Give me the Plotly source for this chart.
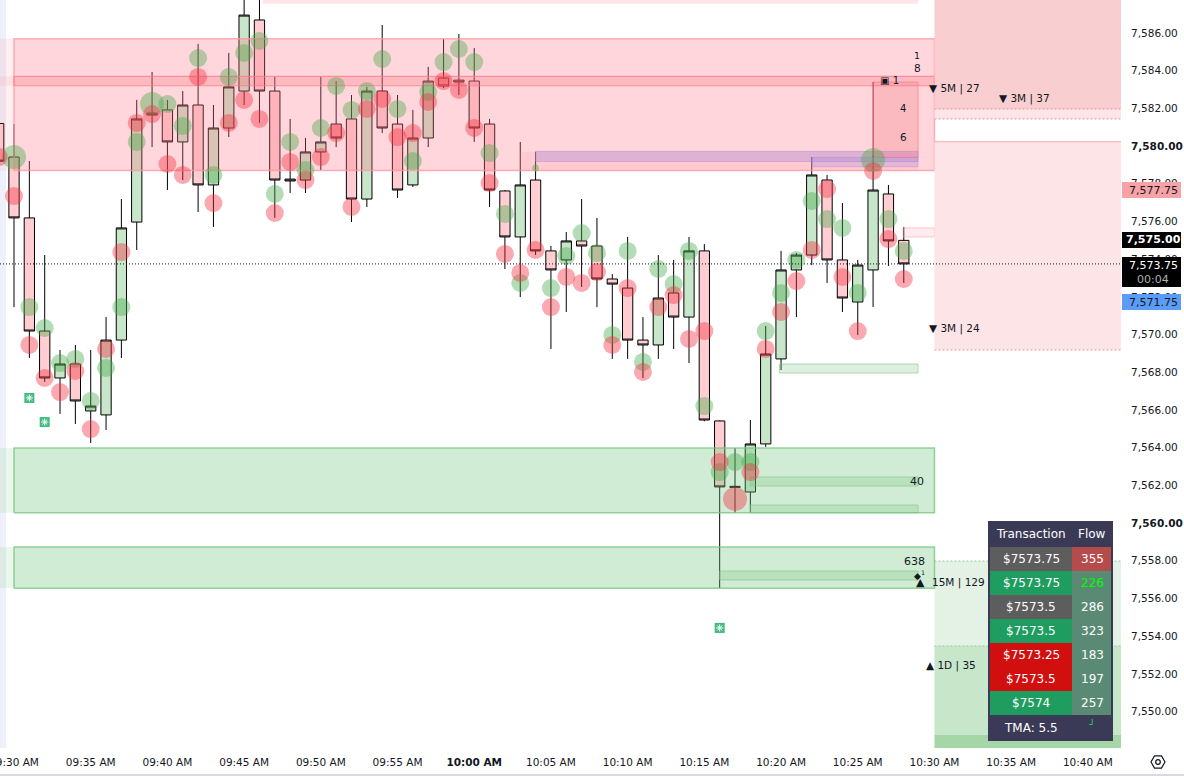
import math
import plotly.graph_objects as go

# ---------------- data ----------------
times = ["09:29", "09:30", "09:31", "09:32", "09:33", "09:34", "09:35", "09:36", "09:37", "09:38",
         "09:39", "09:40", "09:41", "09:42", "09:43", "09:44", "09:45", "09:46", "09:47", "09:48",
         "09:49", "09:50", "09:51", "09:52", "09:53", "09:54", "09:55", "09:56", "09:57", "09:58",
         "09:59", "10:00", "10:01", "10:02", "10:03", "10:04", "10:05", "10:06", "10:07", "10:08",
         "10:09", "10:10", "10:11", "10:12", "10:13", "10:14", "10:15", "10:16", "10:17", "10:18",
         "10:19", "10:20", "10:21", "10:22", "10:23", "10:24", "10:25", "10:26", "10:27", "10:28"]
opens = [7581.20, 7579.42, 7576.19, 7570.19, 7567.70, 7568.44, 7565.95, 7565.74, 7569.71, 7575.97,
         7581.75, 7581.92, 7580.22, 7582.18, 7577.94, 7580.96, 7582.92, 7586.69, 7582.92, 7578.25,
         7578.20, 7579.69, 7581.17, 7581.44, 7577.19, 7582.92, 7581.17, 7577.94, 7580.43, 7583.61,
         7583.50, 7583.45, 7581.17, 7577.62, 7575.18, 7578.20, 7574.44, 7573.96, 7574.97, 7574.70,
         7572.95, 7572.47, 7569.71, 7569.45, 7572.21, 7570.93, 7574.44, 7565.42, 7561.95, 7561.65,
         7564.20, 7568.71, 7573.43, 7574.22, 7578.20, 7573.96, 7571.73, 7573.43, 7577.46, 7575.00]
highs = [7581.60, 7581.17, 7579.21, 7574.22, 7569.18, 7569.45, 7569.18, 7570.93, 7577.19, 7582.45,
         7583.93, 7582.45, 7582.92, 7585.42, 7582.18, 7584.94, 7588.50, 7588.50, 7583.67, 7581.44,
         7580.43, 7583.67, 7583.45, 7582.71, 7583.14, 7586.42, 7582.71, 7581.92, 7584.20, 7585.68,
         7585.95, 7585.20, 7581.44, 7577.67, 7580.22, 7579.69, 7574.70, 7575.44, 7577.19, 7576.19,
         7573.21, 7575.18, 7570.93, 7574.22, 7573.96, 7575.18, 7574.80, 7565.45, 7563.98, 7565.47,
         7570.46, 7574.44, 7574.33, 7579.42, 7578.47, 7576.98, 7573.96, 7579.50, 7577.94, 7575.71]
lows = [7578.50, 7571.46, 7568.76, 7567.49, 7565.79, 7565.26, 7564.25, 7564.94, 7568.76, 7574.49,
        7579.95, 7577.67, 7578.20, 7576.50, 7575.71, 7580.48, 7582.18, 7581.23, 7576.19, 7577.51,
        7577.51, 7578.73, 7579.95, 7575.97, 7576.77, 7580.69, 7577.25, 7577.83, 7579.95, 7583.08,
        7582.71, 7580.22, 7576.77, 7573.48, 7571.99, 7574.22, 7569.24, 7571.20, 7572.53, 7571.46,
        7568.71, 7568.71, 7567.70, 7568.71, 7569.24, 7568.49, 7565.40, 7556.56, 7560.54, 7560.54,
        7564.04, 7568.12, 7570.93, 7573.69, 7572.74, 7571.20, 7569.98, 7571.46, 7573.64, 7572.74]
closes = [7579.20, 7576.19, 7570.19, 7567.70, 7568.44, 7566.48, 7566.21, 7569.71, 7575.66, 7581.44,
          7581.65, 7580.22, 7582.18, 7577.94, 7580.96, 7583.14, 7586.95, 7582.92, 7578.20, 7578.15,
          7579.69, 7580.22, 7580.43, 7577.19, 7582.92, 7580.96, 7577.67, 7580.43, 7583.45, 7583.19,
          7583.40, 7580.96, 7577.67, 7575.18, 7577.94, 7574.44, 7573.43, 7574.97, 7574.70, 7572.95,
          7572.68, 7569.71, 7569.45, 7571.94, 7570.93, 7574.44, 7565.47, 7561.92, 7561.90, 7564.20,
          7568.97, 7573.43, 7574.22, 7578.47, 7573.96, 7571.94, 7573.69, 7577.67, 7574.97, 7573.75]

# bubbles (buy = green, one per candle from 09:30; sell = red, one per candle from 09:29)
buy_prices = [7579.42, 7571.46, 7570.35, 7568.49, 7568.71, 7566.48, 7568.23, 7571.46, 7580.22, 7582.23,
              7582.23, 7581.07, 7584.67, 7578.47, 7583.67, 7584.94, 7585.58, 7577.46, 7580.22, 7578.73,
              7580.96, 7583.19, 7581.92, 7582.92, 7584.62, 7581.97, 7579.21, 7582.87, 7584.46, 7585.15,
              7584.46, 7579.63, 7576.40, 7572.74, 7578.84, 7572.47, 7574.17, 7575.39, 7574.33, 7569.98,
              7574.44, 7568.55, 7573.48, 7572.68, 7574.44, 7566.21, 7562.71, 7563.24, 7563.24, 7570.19,
              7572.21, 7573.96, 7577.09, 7576.13, 7575.66, 7572.21, 7579.26, 7576.13, 7574.44]
sell_prices = [7579.42, 7577.35, 7569.45, 7567.70, 7566.95, 7568.07, 7564.99, 7569.24, 7574.38, 7581.23,
               7581.70, 7579.05, 7578.47, 7583.67, 7576.98, 7581.23, 7582.45, 7581.44, 7576.45, 7579.16,
               7578.20, 7579.42, 7580.69, 7576.77, 7581.97, 7582.50, 7580.48, 7580.69, 7582.34, 7583.45,
               7582.98, 7580.96, 7578.04, 7574.28, 7573.27, 7574.49, 7571.46, 7573.06, 7572.74, 7573.32,
               7569.45, 7572.47, 7568.02, 7571.46, 7572.10, 7569.77, 7570.19, 7563.24, 7561.28, 7562.71,
               7569.24, 7571.20, 7572.84, 7574.49, 7577.72, 7573.06, 7570.19, 7578.68, 7575.07, 7572.95]
buy_big = ["09:30", "09:39", "10:26"]
buy_small = ["10:04"]
sell_big = ["10:17"]

signal_times = ["09:31", "09:32", "10:16"]
signal_prices = [7566.64, 7565.36, 7554.44]

last_price = 7573.75
tick_prices = [7550, 7552, 7554, 7556, 7558, 7560, 7562, 7564, 7566, 7568, 7570,
               7572, 7574, 7576, 7578, 7580, 7582, 7584, 7586, 7588]
time_ticks = ["09:30", "09:35", "09:40", "09:45", "09:50", "09:55", "10:00", "10:05",
              "10:10", "10:15", "10:20", "10:25", "10:30", "10:35", "10:40"]

tbl_prices = ["$7573.75", "$7573.75", "$7573.5", "$7573.5", "$7573.25", "$7573.5", "$7574"]
tbl_flows = ["355", "226", "286", "323", "183", "197", "257"]
tbl_side = ["neutral", "buy", "neutral", "buy", "sell", "sell", "buy"]
tbl_tma = 5.5


def minute(t):
    h, m = t.split(":")
    return int(h) * 60 + int(m) - 570


X = [minute(t) for t in times]
FONT = "DejaVu Sans"
PW, PH = 1121, 748   # plot area in px


def PX(px):
    return px / PW


def PY(py):
    return 1 - py / PH


fig = go.Figure()

# candles
fig.add_trace(go.Candlestick(
    x=X, open=opens, high=highs, low=lows, close=closes,
    increasing=dict(line=dict(color="#000000", width=1), fillcolor="#c8e6c9"),
    decreasing=dict(line=dict(color="#000000", width=1), fillcolor="#ffcdd2"),
    whiskerwidth=0, hoverinfo="skip", showlegend=False))


def rect(t0, t1, p0, p1, fill, line=None, lw=1.0):
    fig.add_trace(go.Scatter(
        x=[t0, t1, t1, t0, t0], y=[p0, p0, p1, p1, p0], mode="lines", fill="toself",
        fillcolor=fill, line=dict(color=line if line else "rgba(0,0,0,0)", width=lw if line else 0),
        hoverinfo="skip", showlegend=False))


def hline(t0, t1, p, color, dash="solid", lw=1.0):
    fig.add_trace(go.Scatter(x=[t0, t1], y=[p, p], mode="lines",
                             line=dict(color=color, width=lw, dash=dash),
                             hoverinfo="skip", showlegend=False))


L0, R0 = -0.913, 72.16
ZS, ZE, ZB = 0, 60, 58.93
PINK = "rgba(255,120,135,0.30)"
PINK_L = "rgba(255,150,160,0.75)"
GREEN = "rgba(110,195,120,0.32)"
GREEN_L = "rgba(120,200,130,0.80)"

# supply zone + band (main area)
rect(L0, ZS, 7578.70, 7585.70, "rgba(255,120,135,0.12)")
rect(ZS, ZE, 7578.70, 7585.70, PINK, PINK_L, 1.5)
rect(L0, ZS, 7583.20, 7583.70, "rgba(255,120,135,0.12)")
rect(ZS, ZE, 7583.20, 7583.70, "rgba(255,110,125,0.28)", "rgba(255,120,135,0.7)", 1.2)
rect(33, ZB, 7578.70, 7579.70, "rgba(255,140,150,0.15)")
rect(34, ZB, 7579.18, 7579.72, "rgba(150,120,220,0.30)", "rgba(160,130,220,0.5)", 0.8)
rect(52, ZB, 7578.90, 7579.40, "rgba(150,120,220,0.25)", "rgba(160,130,220,0.45)", 0.8)
rect(56, ZB, 7579.40, 7583.40, "rgba(240,110,120,0.27)", "rgba(240,120,130,0.6)", 1)
fig.add_trace(go.Scatter(x=[56, 56], y=[7579.40, 7583.40], mode="lines",
                         line=dict(color="rgba(170,40,55,0.8)", width=1),
                         hoverinfo="skip", showlegend=False))
rect(57.95, ZE, 7575.18, 7575.66, "rgba(255,150,160,0.18)", "rgba(255,150,160,0.5)", 1)
rect(16.2, ZB, 7587.55, 7587.75, "rgba(255,150,160,0.25)")

# right-side projected zones
rect(ZE, R0 + 1, 7581.97, 7588.5, "rgb(249,206,209)")
rect(ZE, R0 + 1, 7581.44, 7581.97, "rgb(252,230,232)")
hline(ZE, R0 + 1, 7581.97, "rgb(240,150,160)", "2px,2px")
hline(ZE, R0 + 1, 7581.44, "rgb(240,150,160)", "2px,2px")
rect(ZE, R0 + 1, 7569.18, 7580.23, "rgb(253,228,230)")
hline(ZE, R0 + 1, 7580.23, "rgb(248,170,176)", "solid", 1.2)
hline(ZE, R0 + 1, 7569.18, "rgb(240,150,160)", "2px,2px")

rect(ZE, R0 + 1, 7553.48, 7557.99, "rgb(227,242,228)")
rect(ZE, R0 + 1, 7548.76, 7553.48, "rgb(200,230,201)")
rect(ZE, R0 + 1, 7547.00, 7548.76, "rgb(165,214,167)")
hline(ZE, R0 + 1, 7557.99, "rgb(150,205,155)", "2px,2px")
hline(ZE, R0 + 1, 7553.48, "rgb(150,205,155)", "2px,2px")

# demand zones (main area)
rect(L0, ZS, 7560.55, 7563.98, "rgba(110,195,120,0.14)")
rect(ZS, ZE, 7560.55, 7563.98, GREEN, GREEN_L, 1.5)
rect(L0, ZS, 7556.55, 7558.73, "rgba(110,195,120,0.14)")
rect(ZS, ZE, 7556.55, 7558.73, GREEN, GREEN_L, 1.5)
for t0, p0, p1 in [(48, 7561.97, 7562.45), (48, 7560.55, 7560.96),
                   (46, 7556.98, 7557.46), (49.9, 7567.96, 7568.44)]:
    rect(t0, ZB, p0, p1, "rgba(120,190,125,0.25)", "rgba(120,195,128,0.55)", 1)

# bubbles
bx = [minute(t) for t in times[1:]]
bs = [24 if t in buy_big else (7 if t in buy_small else 18) for t in times[1:]]
fig.add_trace(go.Scatter(x=bx, y=buy_prices, mode="markers",
                         marker=dict(size=bs, color="rgba(70,170,75,0.58)", line=dict(width=0)),
                         hoverinfo="skip", showlegend=False))
ss = [24 if t in sell_big else 18 for t in times]
fig.add_trace(go.Scatter(x=X, y=sell_prices, mode="markers",
                         marker=dict(size=ss, color="rgba(242,50,66,0.60)", line=dict(width=0)),
                         hoverinfo="skip", showlegend=False))

# signal squares
sx = [minute(t) for t in signal_times]
fig.add_trace(go.Scatter(x=sx, y=signal_prices, mode="markers",
                         marker=dict(symbol="square", size=10, color="#3dbb7d", line=dict(width=0)),
                         hoverinfo="skip", showlegend=False))
fig.add_trace(go.Scatter(x=sx, y=signal_prices, mode="markers",
                         marker=dict(symbol="asterisk-open", size=6, color="white", line=dict(width=1, color="white")),
                         hoverinfo="skip", showlegend=False))

shapes = []
annotations = []

# left session strip
shapes.append(dict(type="rect", xref="paper", yref="paper", x0=0, x1=PX(6), y0=0, y1=1,
                   fillcolor="#eef1fb", line=dict(width=0), layer="below"))
# last price dotted line
shapes.append(dict(type="line", xref="paper", yref="y", x0=0, x1=1, y0=last_price, y1=last_price,
                   line=dict(color="#131722", width=1, dash="1px,2px")))
# bottom border
shapes.append(dict(type="line", xref="paper", yref="paper", x0=0, x1=PX(1184), y0=PY(775), y1=PY(775),
                   line=dict(color="#b2b5be", width=1)))


def txt(x, y, s, size=10.5, color="#131722", xanchor="left", xref="x", yref="y", **kw):
    annotations.append(dict(x=x, y=y, xref=xref, yref=yref, text=s, showarrow=False,
                            xanchor=xanchor, yanchor="middle",
                            font=dict(family=FONT, size=size, color=color), **kw))


# zone labels
txt(59.5, 7583.08, "▼ 5M | 27")
txt(64.1, 7582.55, "▼ 3M | 37")
txt(59.5, 7570.30, "▼ 3M | 24")
txt(59.45, 7562.23, "40", xanchor="right", size=11)
txt(59.5, 7557.99, "638", xanchor="right", size=11)
txt(59.5, 7557.25, "◆<sup>1</sup>", xanchor="right", size=9)
txt(59.06, 7556.85, "▲", xanchor="center", size=11)
txt(59.72, 7556.85, "15M | 129")
txt(59.3, 7552.47, "▲ 1D | 35")
txt(58.87, 7584.78, "1", xanchor="center", size=9.5)
txt(58.87, 7584.14, "8", xanchor="center", size=10.5)
txt(56.35, 7583.50, "▣ 1", size=10)
txt(57.95, 7581.97, "4", xanchor="center", size=10)
txt(57.95, 7580.48, "6", xanchor="center", size=10.5)


# price-axis labels
def plabel(py0, py1, bg, lines):
    shapes.append(dict(type="rect", xref="paper", yref="paper", x0=PX(1122), x1=PX(1181),
                       y0=PY(py1), y1=PY(py0), fillcolor=bg, line=dict(width=0), layer="above"))
    for (py, s, col) in lines:
        txt(PX(1153), PY(py), s, size=11, color=col, xanchor="center", xref="paper", yref="paper")


plabel(182, 198, "#f7a2a7", [(190, "7,577.75", "#131722")])
plabel(232, 248, "#000000", [(240, "<b>7,575.00</b>", "#ffffff")])
plabel(257, 287, "#000000", [(265, "7,573.75", "#ffffff"), (279, "00:04", "#b0b0b0")])
plabel(294, 310, "#5b9cf6", [(302, "7,571.75", "#131722")])

# transaction table
side_bg = {"neutral": "#5d5d5d", "buy": "#1f9d60", "sell": "#d10f0f"}
shapes.append(dict(type="rect", xref="paper", yref="paper", x0=PX(988), x1=PX(1113),
                   y0=PY(741), y1=PY(521), fillcolor="#3b3a56", line=dict(width=0), layer="above"))
txt(PX(1031), PY(534), "Transaction", size=12, color="#ffffff", xanchor="center", xref="paper", yref="paper")
txt(PX(1092), PY(534), "Flow", size=12, color="#ffffff", xanchor="center", xref="paper", yref="paper")
for k, (pr, fl, sd) in enumerate(zip(tbl_prices, tbl_flows, tbl_side)):
    y0 = 547 + 24 * k
    y1 = y0 + 24
    shapes.append(dict(type="rect", xref="paper", yref="paper", x0=PX(990), x1=PX(1072),
                       y0=PY(y1), y1=PY(y0), fillcolor=side_bg[sd], line=dict(width=0), layer="above"))
    fbg = "#b64b4b" if k == 0 else "#5a8a74"
    shapes.append(dict(type="rect", xref="paper", yref="paper", x0=PX(1072), x1=PX(1111),
                       y0=PY(y1), y1=PY(y0), fillcolor=fbg, line=dict(width=0), layer="above"))
    txt(PX(1031), PY(y0 + 12), pr, size=12, color="#ffffff", xanchor="center", xref="paper", yref="paper")
    fcol = "#00ff00" if k == 1 else "#ffffff"
    txt(PX(1092), PY(y0 + 12), fl, size=12, color=fcol, xanchor="center", xref="paper", yref="paper")
txt(PX(1031), PY(728), "TMA: %s" % tbl_tma, size=12, color="#ffffff", xanchor="center", xref="paper", yref="paper")
txt(PX(1092), PY(724), "┘", size=10, color="#2ecc71", xanchor="center", xref="paper", yref="paper")

# settings icon
cx, cy, r = 1158, 762, 7
pts = [(cx + r * math.cos(math.radians(a)), cy + r * math.sin(math.radians(a))) for a in range(0, 360, 60)]
path = "M " + " L ".join("%f,%f" % (PX(a), PY(b)) for a, b in pts) + " Z"
shapes.append(dict(type="path", xref="paper", yref="paper", path=path,
                   line=dict(color="#131722", width=1.2), fillcolor="rgba(0,0,0,0)"))
shapes.append(dict(type="circle", xref="paper", yref="paper", x0=PX(cx - 2.3), x1=PX(cx + 2.3),
                   y0=PY(cy + 2.3), y1=PY(cy - 2.3), line=dict(color="#131722", width=1.2)))

ytext = []
for p in tick_prices:
    s = "{:,.2f}".format(p)
    ytext.append("<b>%s</b>" % s if p in (7560, 7580) else s)
xtext = []
for t in time_ticks:
    h, m = t.split(":")
    s = "%s:%s AM" % (h, m)
    xtext.append("<b>%s</b>" % s if m == "00" else s)

fig.update_layout(
    width=1184, height=776, margin=dict(l=0, r=63, t=0, b=28, autoexpand=False),
    paper_bgcolor="white", plot_bgcolor="white", showlegend=False,
    boxgap=0.33, boxgroupgap=0,
    font=dict(family=FONT, color="#131722"),
    xaxis=dict(range=[L0, R0], showgrid=False, zeroline=False, showline=False, ticks="",
               rangeslider=dict(visible=False), tickvals=[minute(t) for t in time_ticks],
               ticktext=xtext, tickfont=dict(family=FONT, size=10.5, color="#131722"),
               ticklabelstandoff=6, ticklabeloverflow="allow", automargin=False, fixedrange=True),
    yaxis=dict(range=[7548.07, 7587.75], side="right", showgrid=False, zeroline=False,
               showline=False, ticks="", tickvals=tick_prices, ticktext=ytext,
               tickfont=dict(family=FONT, size=10.5, color="#131722"),
               ticklabelstandoff=9, ticklabeloverflow="allow", automargin=False, fixedrange=True),
    shapes=shapes, annotations=annotations,
)

fig.write_html("out.html", config={"displayModeBar": False})
